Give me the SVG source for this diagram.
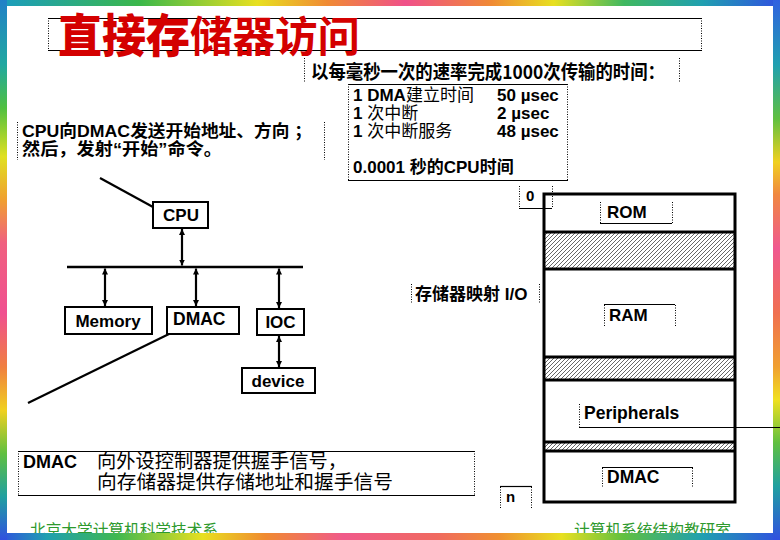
<svg xmlns="http://www.w3.org/2000/svg" width="780" height="540" viewBox="0 0 780 540">
<defs>
<style>
.t{font-family:"Liberation Sans","Noto Sans CJK SC",sans-serif;font-weight:bold;fill:#000}
.c{font-family:"Noto Sans CJK SC","Liberation Sans",sans-serif;fill:#000}
.b{fill:#fff;stroke:#000;stroke-width:2}
.ln{stroke:#000;stroke-width:2.2;fill:none}
.dot{stroke:#000;stroke-width:1;stroke-dasharray:1 1.5;fill:none}
.sol{stroke:#000;stroke-width:1.2;fill:none}
.map{stroke:#000;stroke-width:3;fill:none}
.foot{font-family:"Noto Sans CJK SC",sans-serif;font-size:16px;fill:#2e9a2e}
</style>
<marker id="ah" viewBox="0 0 10 10" refX="10" refY="5" markerUnits="userSpaceOnUse" markerWidth="6" markerHeight="6" orient="auto-start-reverse">
<path d="M0,0 L10,5 L0,10 z" fill="#000"/>
</marker>
<pattern id="hatch" patternUnits="userSpaceOnUse" width="4" height="4">
<rect width="4" height="4" fill="#fff"/>
<path d="M-1,1 L1,-1 M0,4 L4,0 M3,5 L5,3" stroke="#000" stroke-width="0.6"/>
</pattern>
<linearGradient id="gT" x1="0" y1="0" x2="780" y2="0" gradientUnits="userSpaceOnUse">
<stop offset="0" stop-color="#1a9cc0"/><stop offset="0.18" stop-color="#3cb84a"/><stop offset="0.33" stop-color="#e8e020"/><stop offset="0.42" stop-color="#f08a34"/><stop offset="0.52" stop-color="#f0508a"/><stop offset="0.63" stop-color="#f08a34"/><stop offset="0.71" stop-color="#e8e020"/><stop offset="0.8" stop-color="#40b860"/><stop offset="0.9" stop-color="#20a0b0"/><stop offset="1" stop-color="#3050e0"/>
</linearGradient>
<linearGradient id="gB" x1="0" y1="0" x2="780" y2="0" gradientUnits="userSpaceOnUse">
<stop offset="0" stop-color="#3050e0"/><stop offset="0.06" stop-color="#20a0b0"/><stop offset="0.15" stop-color="#40b850"/><stop offset="0.26" stop-color="#e8e020"/><stop offset="0.34" stop-color="#f08a30"/><stop offset="0.44" stop-color="#f05a8a"/><stop offset="0.56" stop-color="#f06a60"/><stop offset="0.64" stop-color="#f09030"/><stop offset="0.72" stop-color="#e8e020"/><stop offset="0.8" stop-color="#60c040"/><stop offset="0.9" stop-color="#20a0b0"/><stop offset="1" stop-color="#3050e0"/>
</linearGradient>
<linearGradient id="gL" x1="0" y1="0" x2="0" y2="540" gradientUnits="userSpaceOnUse">
<stop offset="0" stop-color="#2080c8"/><stop offset="0.12" stop-color="#20a8a0"/><stop offset="0.2" stop-color="#50c040"/><stop offset="0.29" stop-color="#e0e020"/><stop offset="0.37" stop-color="#f0a030"/><stop offset="0.45" stop-color="#f06080"/><stop offset="0.58" stop-color="#f05090"/><stop offset="0.68" stop-color="#f08040"/><stop offset="0.76" stop-color="#f0d020"/><stop offset="0.84" stop-color="#60c040"/><stop offset="0.92" stop-color="#20a0a0"/><stop offset="1" stop-color="#3050e0"/>
</linearGradient>
<linearGradient id="gR" x1="0" y1="0" x2="0" y2="540" gradientUnits="userSpaceOnUse">
<stop offset="0" stop-color="#3060e0"/><stop offset="0.12" stop-color="#20a0b0"/><stop offset="0.22" stop-color="#60c040"/><stop offset="0.3" stop-color="#f0d020"/><stop offset="0.36" stop-color="#f08840"/><stop offset="0.46" stop-color="#f05890"/><stop offset="0.58" stop-color="#f07050"/><stop offset="0.68" stop-color="#f0a030"/><stop offset="0.74" stop-color="#f0e020"/><stop offset="0.82" stop-color="#60c040"/><stop offset="0.9" stop-color="#20a0a0"/><stop offset="1" stop-color="#3050e0"/>
</linearGradient>
</defs>

<rect width="780" height="540" fill="#fff"/>

<!-- title -->
<g id="title">
<path class="sol" d="M48,18.5 H702 M48,50.5 H702"/>
<path class="dot" d="M48.5,18 V50 M701.5,18 V50"/>
<text x="58" y="52" style="font-family:'Noto Sans CJK SC',sans-serif;font-weight:900;fill:#d40000"><tspan font-size="46" textLength="132" lengthAdjust="spacingAndGlyphs">直接存</tspan><tspan font-size="42" font-weight="bold" textLength="170" lengthAdjust="spacingAndGlyphs">储器访问</tspan></text>
</g>

<g id="subtitle">
<path class="dot" d="M304.5,58 V82 M679.5,58 V82"/>
<text class="c" x="311" y="79" font-size="19" font-weight="bold" textLength="354" lengthAdjust="spacingAndGlyphs">以每毫秒一次的速率完成1000次传输的时间：</text>
</g>

<g id="timing">
<path class="sol" d="M348,84.5 H568 M348,180.5 H568"/>
<path class="dot" d="M348.5,84 V181 M567.5,84 V181"/>
<text class="t" x="353" y="101" font-size="17">1 DMA<tspan class="c" font-weight="normal">建立时间</tspan></text>
<text class="t" x="497" y="101" font-size="17">50 µsec</text>
<text class="t" x="353" y="119" font-size="17">1 <tspan class="c" font-weight="normal">次中断</tspan></text>
<text class="t" x="497" y="119" font-size="17">2 µsec</text>
<text class="t" x="353" y="137" font-size="17">1 <tspan class="c" font-weight="normal">次中断服务</tspan></text>
<text class="t" x="497" y="137" font-size="17">48 µsec</text>
<text class="t" x="353" y="173" font-size="17">0.0001 <tspan class="c">秒的</tspan>CPU<tspan class="c">时间</tspan></text>
</g>

<g id="cpu-note">
<path class="dot" d="M17.5,122 V160 M324.5,122 V160"/>
<text class="t" x="22" y="137" font-size="16.5" textLength="290" lengthAdjust="spacingAndGlyphs">CPU向DMAC发送开始地址、方向 ；</text>
<text class="t" x="22" y="155" font-size="16.5" textLength="200" lengthAdjust="spacingAndGlyphs">然后，发射“开始”命令。</text>
</g>

<!-- connectors -->
<g id="connectors">
<line class="ln" x1="100" y1="178" x2="153" y2="207"/>
<line class="ln" x1="169" y1="334" x2="28" y2="403"/>
<line x1="67" y1="267" x2="303" y2="267" stroke="#000" stroke-width="2.6"/>
<line class="ln" x1="182" y1="229" x2="182" y2="265.5" marker-start="url(#ah)" marker-end="url(#ah)"/>
<line class="ln" x1="105" y1="268.5" x2="105" y2="306" marker-start="url(#ah)" marker-end="url(#ah)"/>
<line class="ln" x1="196" y1="268.5" x2="196" y2="306" marker-start="url(#ah)" marker-end="url(#ah)"/>
<line class="ln" x1="279" y1="268.5" x2="279" y2="308" marker-start="url(#ah)" marker-end="url(#ah)"/>
<line class="ln" x1="279" y1="336" x2="279" y2="367" marker-start="url(#ah)" marker-end="url(#ah)"/>
</g>

<g id="cpu">
<rect class="b" x="153" y="202" width="55" height="26"/>
<text class="t" x="181" y="221" font-size="17" text-anchor="middle">CPU</text>
</g>
<g id="memory">
<rect class="b" x="65" y="307" width="87" height="27"/>
<text class="t" x="108" y="327" font-size="17" text-anchor="middle">Memory</text>
</g>
<g id="dmac">
<rect class="b" x="167" y="307" width="72" height="27"/>
<text class="t" x="173" y="325" font-size="17.5">DMAC</text>
</g>
<g id="ioc">
<rect class="b" x="257" y="309" width="47" height="26"/>
<text class="t" x="280.5" y="328" font-size="17" text-anchor="middle">IOC</text>
</g>
<g id="device">
<rect class="b" x="242" y="368" width="73" height="25"/>
<text class="t" x="278" y="387" font-size="17" text-anchor="middle">device</text>
</g>

<!-- memory map -->
<g id="memmap">
<rect x="544" y="232" width="191" height="37" fill="url(#hatch)"/>
<rect x="544" y="357" width="191" height="23" fill="url(#hatch)"/>
<rect x="544" y="442" width="191" height="9" fill="url(#hatch)"/>
<path class="map" d="M544,232 H735 M544,269 H735 M544,357 H735 M544,380 H735 M544,442 H735 M544,451 H735"/>
<rect class="map" x="544" y="194" width="191" height="308"/>
</g>

<g id="label-0">
<path class="dot" d="M519.5,186 V208 M552.5,186 V208"/>
<path class="sol" d="M519,208.5 H552"/>
<text class="t" x="526" y="201" font-size="15">0</text>
</g>
<g id="rom">
<path class="dot" d="M600.5,202 V223 M672.5,202 V223"/>
<path class="sol" d="M600,223.5 H672"/>
<text class="t" x="607" y="218" font-size="17">ROM</text>
</g>
<g id="mmio">
<path class="dot" d="M411.5,284 V304 M539.5,284 V304"/>
<text class="t" x="415" y="300" font-size="17"><tspan class="c" font-weight="bold">存储器映射</tspan> I/O</text>
</g>
<g id="ram">
<path class="sol" d="M604,304.5 H675"/>
<path class="dot" d="M604.5,305 V327 M675.5,305 V327"/>
<text class="t" x="609" y="321" font-size="17">RAM</text>
</g>
<g id="periph">
<path class="dot" d="M579.5,404 V427"/>
<text class="t" x="584" y="419" font-size="17.5">Peripherals</text>
</g>
<g id="dmac-map">
<path class="sol" d="M602,467.5 H693"/>
<path class="dot" d="M602.5,468 V488 M692.5,468 V488"/>
<text class="t" x="607" y="483" font-size="17.5">DMAC</text>
</g>
<g id="label-n">
<path class="sol" d="M500,486.5 H532"/>
<path class="dot" d="M500.5,487 V508 M531.5,487 V508"/>
<text class="t" x="506" y="502" font-size="15">n</text>
</g>

<g id="dmac-note">
<path class="sol" d="M18,451.5 H475 M18,495.5 H475"/>
<path class="dot" d="M18.5,451 V495 M474.5,451 V495"/>
<text class="t" x="23" y="468" font-size="18">DMAC</text>
<text class="c" x="97" y="468" font-size="19.5" textLength="250" lengthAdjust="spacingAndGlyphs">向外设控制器提供握手信号，</text>
<text class="c" x="97" y="489" font-size="19.5" textLength="296" lengthAdjust="spacingAndGlyphs">向存储器提供存储地址和握手信号</text>
</g>

<g id="footer">
<text class="foot" x="30" y="536" textLength="188" lengthAdjust="spacingAndGlyphs">北京大学计算机科学技术系</text>
<text class="foot" x="574" y="536" textLength="157" lengthAdjust="spacingAndGlyphs">计算机系统结构教研室</text>
</g>

<!-- frame -->
<g id="frame">
<rect x="0" y="0" width="780" height="6" fill="url(#gT)"/>
<rect x="0" y="533" width="780" height="7" fill="url(#gB)"/>
<rect x="0" y="0" width="7" height="540" fill="url(#gL)"/>
<rect x="773" y="0" width="7" height="540" fill="url(#gR)"/>
</g>
<path class="sol" d="M579,427.5 H780"/>
</svg>
